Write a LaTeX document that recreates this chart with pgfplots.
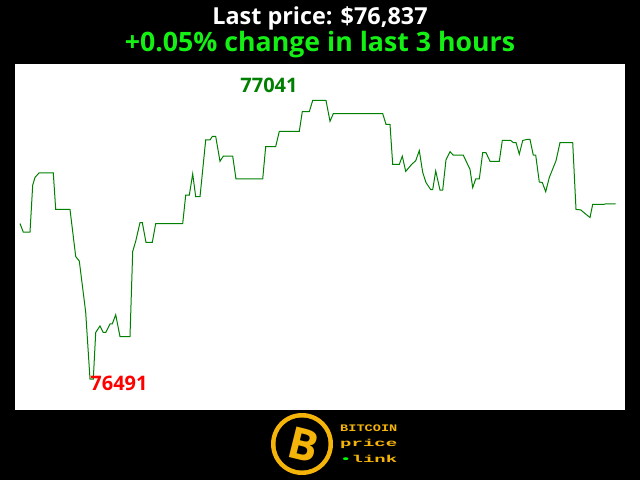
\documentclass[border=0pt]{standalone}
\usepackage{fontspec}
\setmainfont{Open Sans}
\newfontfamily\monofont{Liberation Mono}
\usepackage{pgfplots}
\pgfplotsset{compat=1.18}

\definecolor{pricegreen}{RGB}{0,128,0}
\definecolor{titlegreen}{RGB}{20,240,20}
\definecolor{logoorange}{RGB}{245,180,10}

% x = position along the 3 hours, price in USD
\pgfplotstableread{
x price
5 76798
8.3 76781
15 76781
17.7 76874
20 76889
24 76898
38.3 76898
40.7 76826
55 76826
60.7 76733
64.3 76724
70.7 76623
75 76491
78.3 76491
80.7 76583
85 76596
88.3 76583
90.7 76583
95 76600
97.3 76600
100.7 76618
105 76575
115 76575
117.7 76743
120.7 76763
125 76800
127.3 76800
131 76761
137.3 76761
140.7 76798
167.7 76798
170.7 76854
174.3 76854
177.7 76896
180.7 76851
185 76851
190.7 76963
195 76963
197.3 76970
200.7 76970
205 76921
208.3 76931
217.7 76931
221 76886
247.7 76886
250.7 76950
260.7 76950
264.3 76980
284.3 76980
287.3 77019
294.3 77019
297.7 77041
311 77041
315 77000
318.3 77015
367.7 77015
371 76994
375 76994
377.7 76915
384.3 76915
387.3 76931
390.7 76901
396.7 76915
400.7 76922
404.3 76942
407.7 76899
411 76879
415.7 76865
417.7 76865
420.7 76902
425 76864
427.7 76864
431 76924
435 76940
438.3 76933
448.3 76933
455 76905
457.7 76869
460.7 76886
464.3 76886
467.7 76938
471 76938
475 76921
484.3 76921
487.3 76962
495.7 76962
498.3 76958
501 76958
504.3 76935
507.7 76962
511.7 76964
515 76964
518.3 76933
520.7 76933
524.3 76880
527.3 76879
530.7 76861
534.3 76889
541 76922
545 76958
557.7 76958
561 76826
565.7 76825
569.3 76819
575 76810
577.7 76836
589 76836
590.7 76837
600.7 76837
}\pricedata

\begin{document}
\begin{tikzpicture}[x=1pt,y=1pt]
\fill[black] (0,0) rectangle (640,480);
\begin{axis}[
    at={(15pt,70pt)}, anchor=south west,
    width=610pt, height=346pt, scale only axis,
    xmin=0, xmax=610, ymin=76430, ymax=77113,
    axis background/.style={fill=white},
    axis line style={draw=none},
    ticks=none,
    clip=false,
]
\addplot[pricegreen, line width=1pt, mark=none] table[x=x, y=price] {\pricedata};
\node[text=pricegreen, font=\bfseries\fontsize{20}{20}\selectfont] at (axis cs:254,77071) {77041};
\node[text=red, font=\bfseries\fontsize{20}{20}\selectfont] at (axis cs:104,76482) {76491};
\end{axis}
% titles
\node[text=white, font=\bfseries\fontsize{23.4}{23.4}\selectfont] at (320,461.5) {Last price: \$76,837};
\node[text=titlegreen, font=\bfseries\fontsize{26.7}{26.7}\selectfont] at (320,435.5) {+0.05\% change in last 3 hours};
% logo
\fill[logoorange] (302,36) circle (31);
\fill[black] (302,36) circle (26.5);
\node[text=logoorange, rotate=-14, font=\bfseries\fontsize{44}{44}\selectfont] at (304,35) {B};
\tikzset{logotext/.style={text=logoorange, anchor=west, inner sep=0pt,
    font=\monofont\bfseries\fontsize{10}{10}\selectfont}}
\node[logotext] at (340,51.5) {\scalebox{1.36}[1]{BITCOIN}};
\node[logotext] at (340,36.5) {\scalebox{1.9}[1]{price}};
\node[logotext] at (340,21.5) {\scalebox{1.9}[1]{\textcolor{green}{\textbullet}link}};
\end{tikzpicture}
\end{document}
